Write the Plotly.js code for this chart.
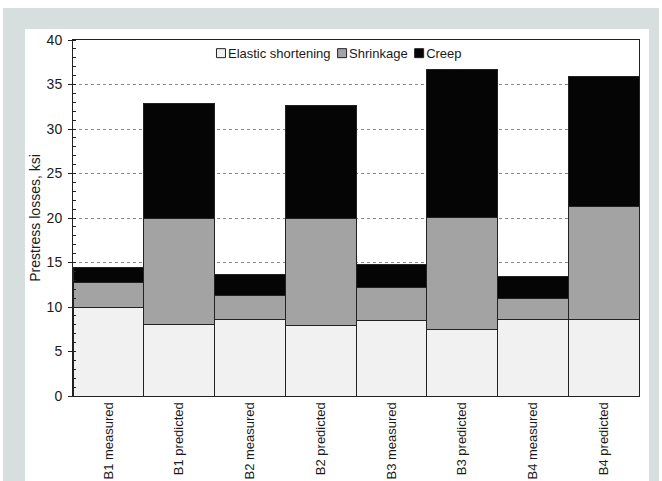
<!DOCTYPE html>
<html>
<head>
<meta charset="utf-8">
<script src="https://cdn.plot.ly/plotly-3.0.1.min.js"></script>
<style>
  html, body { margin: 0; padding: 0; background: #ffffff; }
  #wrap { position: relative; width: 662px; height: 481px; overflow: hidden; }
  #frame { position: absolute; left: 3px; top: 8px; width: 656px; height: 473px; background: #d7dfde; }
  #panel { position: absolute; left: 25px; top: 29px; width: 624px; height: 452px; background: #ffffff; }
  #chart { position: absolute; left: 0; top: 0; width: 662px; height: 481px; }
</style>
</head>
<body>
<div id="wrap">
  <div id="frame"></div>
  <div id="panel"></div>
  <div id="chart"></div>
</div>
<script>
// Beam specimens, measured vs. predicted prestress losses (ksi)
const categories = [
  "B1 measured", "B1 predicted", "B2 measured", "B2 predicted",
  "B3 measured", "B3 predicted", "B4 measured", "B4 predicted"
];
const elasticShortening = [9.9, 8.0, 8.65, 7.9, 8.45, 7.5, 8.65, 8.55];
const shrinkage         = [2.85, 12.0, 2.65, 12.0, 3.75, 12.55, 2.35, 12.75];
const creep             = [1.7, 12.85, 2.4, 12.7, 2.55, 16.65, 2.4, 14.65];
const yTicks = [0, 5, 10, 15, 20, 25, 30, 35, 40];

const outline = { color: "#222222", width: 1 };

const traces = [
  { type: "bar", name: "Elastic shortening", x: categories, y: elasticShortening,
    marker: { color: "#f1f1f1", line: outline } },
  { type: "bar", name: "Shrinkage", x: categories, y: shrinkage,
    marker: { color: "#a3a3a3", line: outline } },
  { type: "bar", name: "Creep", x: categories, y: creep,
    marker: { color: "#050505", line: outline } }
];

const layout = {
  width: 662, height: 481,
  margin: { l: 73, r: 23, t: 40, b: 85 },
  paper_bgcolor: "rgba(0,0,0,0)",
  plot_bgcolor: "#ffffff",
  barmode: "stack",
  bargap: 0,
  font: { family: "Liberation Sans, Arial, sans-serif", size: 13, color: "#1a1a1a" },
  showlegend: true,
  legend: {
    orientation: "h", x: 0.47, xanchor: "center", y: 1.005, yanchor: "top",
    bgcolor: "rgba(0,0,0,0)", font: { size: 13 }, itemwidth: 30,
    traceorder: "normal"
  },
  xaxis: {
    type: "category", tickangle: -90, ticks: "", showgrid: false,
    showline: true, linecolor: "#222", linewidth: 1, mirror: true,
    tickfont: { size: 13 }
  },
  yaxis: {
    range: [0, 40], tickvals: yTicks, ticktext: yTicks.map(String),
    ticks: "outside", ticklen: 4, tickcolor: "#222", ticklabelstandoff: 3,
    showline: true, linecolor: "#222", linewidth: 1, mirror: true,
    showgrid: true, gridcolor: "#8a8a8a", griddash: "dot", gridwidth: 1,
    zeroline: false,
    minor: { dtick: 1, ticks: "inside", ticklen: 3, tickcolor: "#222", showgrid: false },
    title: { text: "Prestress losses, ksi", font: { size: 14 }, standoff: 2 },
    tickfont: { size: 14 }
  }
};

// Compact legend: small swatches sitting right next to their labels
function compactLegend(gd) {
  const legend = gd.querySelector(".legend");
  if (!legend) return;
  const items = legend.querySelectorAll(".traces");
  const half = 4.5, textX = 27, swatchLeft = 20 - half, gap = 7;
  let cursor = 0;
  const shifts = [];
  items.forEach(g => {
    g.querySelectorAll(".legendpoints path").forEach(p => {
      p.setAttribute("d", `M${half},${half}H-${half}V-${half}H${half}Z`);
    });
    const txt = g.querySelector(".legendtext");
    txt.setAttribute("x", textX);
    const w = txt.getComputedTextLength();
    const m = /translate\(([-\d.]+)[ ,]+([-\d.]+)\)/.exec(g.getAttribute("transform") || "");
    const ty = m ? parseFloat(m[2]) : 0;
    shifts.push({ g, tx: cursor - swatchLeft, ty });
    cursor += (textX + w - swatchLeft) + gap;
  });
  const total = cursor - gap;
  const bg = legend.querySelector(".bg");
  const legendW = bg ? parseFloat(bg.getAttribute("width")) : total;
  const offset = (legendW - total) / 2;
  shifts.forEach(s => s.g.setAttribute("transform", `translate(${s.tx + offset},${s.ty})`));
}

Plotly.newPlot("chart", traces, layout, { displayModeBar: false, staticPlot: true })
  .then(gd => compactLegend(gd));
</script>
</body>
</html>
